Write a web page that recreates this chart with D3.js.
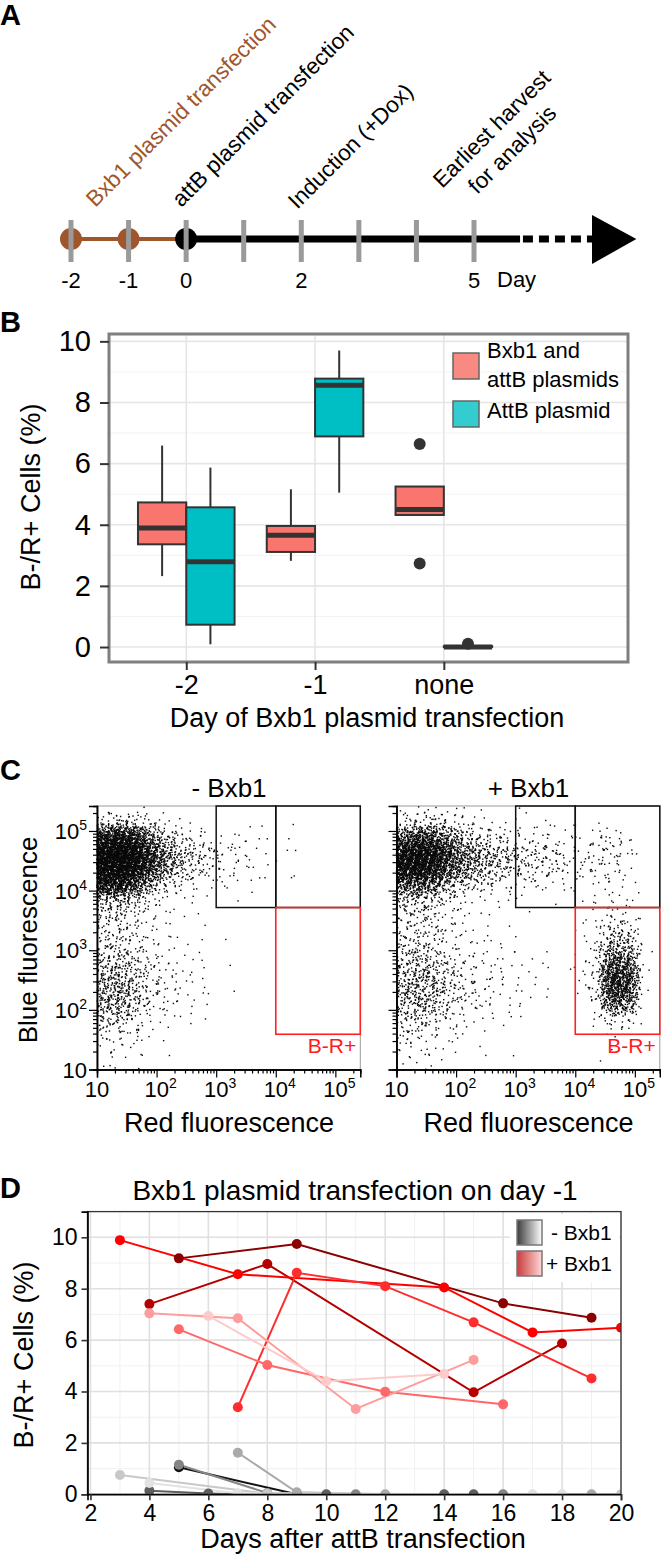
<!DOCTYPE html>
<html><head><meta charset="utf-8">
<script src="https://cdn.jsdelivr.net/npm/d3@7"></script>
<style>
body{margin:0;background:#fff}
svg{display:block}
text{font-family:"Liberation Sans",Arial,Helvetica,sans-serif}
</style>
</head><body>
<svg id="fig" width="661" height="1562"></svg>
<script>
// ================= DATA =================
// Panel A – timeline
const tlDays = [-2,-1,0,1,2,3,4,5];
const tlLabelDays = [-2,-1,0,2,5];
const bxb1Days = [-2,-1];
const attBDays = [0];
const eventText = [["Bxb1 plasmid transfection"],["attB plasmid transfection"],["Induction (+Dox)"],["Earliest harvest","for analysis"]];
const eventDay = [-1.5, 0, 2, 5];

// Panel B – box plots  [lower whisker, Q1, median, Q3, upper whisker]
const bGroups = ["-2","-1","none"];
const bSeries = [["Bxb1 and","attB plasmids"],["AttB plasmid"]];
const boxBxb1 = [[2.32,3.36,3.89,4.73,6.59],[2.82,3.11,3.66,3.96,5.16],[4.32,4.32,4.50,5.25,5.25]];
const boxAttB = [[0.09,0.73,2.79,4.57,5.87],[5.05,6.89,8.56,8.78,9.70],[0,0,0,0.03,0.03]];
const outBxb1 = [[],[],[6.64,2.73]];
const outAttB = [[],[],[0.11]];
const bTicks = [0,2,4,6,8,10];

// Panel C – flow cytometry density (counts per 0.25-decade cell; rows from log10 5.5 down to 1, cols from log10 1 up)
const facsTitles = ["- Bxb1","+ Bxb1"];
const facsExps = [1,2,3,4,5];
const facsMax = 262144;
const gateBlueCut = 5200, gateRedLow = 39, gateRed1 = 1000, gateRed2 = 10000;
const facsMinus = [
 [0,1,1,0,0,0,0,0,0,0,0,0,0,0,0,0,0,0],
 [20,30,25,12,5,2,1,0,0,0,1,0,0,1,0,0,0,0],
 [240,300,230,95,35,15,8,5,3,3,2,1,1,0,0,0,0,0],
 [380,420,370,200,85,40,25,15,8,6,3,2,1,1,0,0,0,0],
 [380,420,350,180,75,35,20,12,6,5,3,1,0,1,0,0,0,0],
 [260,280,170,65,25,10,6,4,2,2,2,1,1,0,0,0,0,0],
 [50,55,30,10,4,2,1,0,1,1,0,0,0,0,0,0,0,0],
 [20,22,14,6,3,2,1,0,0,0,0,0,0,0,0,0,0,0],
 [16,16,11,5,3,1,0,1,0,0,0,0,0,0,0,0,0,0],
 [16,17,12,6,3,2,1,0,1,0,0,0,0,0,0,0,0,0],
 [26,30,18,8,4,2,2,1,0,0,0,0,0,0,0,0,0,0],
 [38,42,26,12,6,4,3,1,1,0,0,0,0,0,0,0,0,0],
 [48,58,36,15,8,5,3,2,0,1,0,0,0,0,0,0,0,0],
 [48,58,30,12,6,4,2,1,0,0,0,0,0,0,0,0,0,0],
 [30,30,15,6,3,2,1,0,0,0,0,0,0,0,0,0,0,0],
 [12,10,6,3,1,1,0,0,0,0,0,0,0,0,0,0,0,0],
 [5,5,3,1,1,0,0,0,0,0,0,0,0,0,0,0,0,0],
 [3,2,1,1,0,0,0,0,0,0,0,0,0,0,0,0,0,0]
];
const facsPlus = [
 [1,3,3,2,1,0,0,0,1,0,0,0,0,0,0,0,0,0],
 [12,22,24,16,8,5,3,2,2,2,1,1,1,2,1,0,0,0],
 [120,170,150,80,40,22,14,9,7,7,6,3,3,6,7,3,0,0],
 [280,340,290,170,90,55,38,28,20,18,15,8,6,11,11,5,1,0],
 [280,330,260,140,80,50,33,24,18,15,13,7,5,9,9,4,0,0],
 [130,150,110,50,28,16,11,8,6,5,4,3,2,3,3,2,0,0],
 [32,36,26,10,6,3,2,2,1,1,1,0,1,3,4,2,0,0],
 [15,18,12,6,3,2,1,0,1,0,0,0,1,4,9,7,1,0],
 [14,15,12,6,4,2,1,1,0,0,0,0,1,6,18,14,1,0],
 [18,18,14,8,4,3,2,2,1,0,0,0,1,8,45,38,2,0],
 [25,30,22,12,6,4,3,2,2,1,0,1,2,12,100,85,2,0],
 [35,40,32,18,10,6,4,3,2,1,1,0,2,15,180,150,2,0],
 [40,50,38,22,12,8,5,4,2,2,1,0,2,15,190,160,2,0],
 [35,45,32,18,10,6,4,3,2,1,0,0,1,10,120,95,1,0],
 [25,25,18,10,5,3,2,1,1,0,0,0,0,4,16,12,1,0],
 [12,10,7,4,2,1,1,0,0,0,0,0,0,1,2,2,0,0],
 [6,5,3,2,1,0,0,0,1,0,0,0,0,0,1,0,0,0],
 [3,3,2,1,0,0,1,0,0,0,0,0,0,0,1,0,0,0]
];

// Panel D – time courses
const dXTicks = [2,4,6,8,10,12,14,16,18,20];
const dYTicks = [0,2,4,6,8,10];
const plusDays = [[5,9,16,19],[4,8,15,18],[3,7,14,17,20],[7,9,12,15,19],[5,8,12,16],[4,7,11,15],[6,10,14]];
const plusVals = [[9.18,9.74,7.43,6.87],[7.40,8.96,3.97,5.87],[9.89,8.56,8.05,6.30,6.48],[3.39,8.62,8.10,6.69,4.51],[6.42,5.03,3.99,3.50],[7.04,6.85,3.32,5.23],[6.94,4.40,4.68]];
const minusDays = [[5,9],[4,6,7,10,14,15],[5,8,11,16],[7,9,12,19],[3,8,20],[4,7,17,18]];
const minusVals = [[1.05,0],[0.14,0.03,0,0,0,0],[1.15,0.05,0,0],[1.62,0.08,0,0],[0.75,0.02,0],[0.44,0.04,0,0]];
const dLegend = ["- Bxb1","+ Bxb1"];

// ================= DRAW =================
const svg = d3.select("#fig");
const defs = svg.append("defs");

function txt(g, x, y, s, size, opt = {}) {
  const t = g.append("text").attr("x", x).attr("y", y).text(s)
    .attr("font-size", size).attr("fill", opt.fill || "#000")
    .attr("text-anchor", opt.anchor || "start");
  if (opt.weight) t.attr("font-weight", opt.weight);
  if (opt.rotate != null) t.attr("transform", `rotate(${opt.rotate},${x},${y})`);
  return t;
}
function styleAxis(ax, size, color) {
  ax.selectAll("text").attr("font-size", size).attr("fill", "#000");
  ax.selectAll(".tick line").attr("stroke", color || "#000");
}

// ---------- Panel A ----------
const gA = svg.append("g");
txt(gA, 0, 25, "A", 29, {weight: "bold"});
const xA = d3.scaleLinear().domain([-2, 5]).range([71, 474]);
const yLine = 239;
const brown = "#a0562c";
gA.append("line").attr("x1", xA(-2)).attr("x2", xA(0)).attr("y1", yLine).attr("y2", yLine)
  .attr("stroke", brown).attr("stroke-width", 4);
gA.append("line").attr("x1", xA(0)).attr("x2", xA(5.8)).attr("y1", yLine).attr("y2", yLine)
  .attr("stroke", "#000").attr("stroke-width", 7);
gA.append("line").attr("x1", xA(5.85)).attr("x2", xA(7.05)).attr("y1", yLine).attr("y2", yLine)
  .attr("stroke", "#000").attr("stroke-width", 7).attr("stroke-dasharray", "10,6");
gA.append("path")
  .attr("d", `M${xA(7.05)},${yLine-24} L${xA(7.82)},${yLine} L${xA(7.05)},${yLine+25} Z`)
  .attr("fill", "#000");
gA.selectAll("circle.bx").data(bxb1Days).join("circle").attr("class","bx")
  .attr("cx", d => xA(d)).attr("cy", yLine).attr("r", 11).attr("fill", brown);
gA.selectAll("circle.at").data(attBDays).join("circle").attr("class","at")
  .attr("cx", d => xA(d)).attr("cy", yLine).attr("r", 11).attr("fill", "#000");
gA.selectAll("rect.tk").data(tlDays).join("rect").attr("class","tk")
  .attr("x", d => xA(d) - 2.5).attr("y", 220).attr("width", 5).attr("height", 42)
  .attr("fill", "#9a9a9a");
tlLabelDays.forEach(d => txt(gA, xA(d), 288, String(d), 22, {anchor: "middle"}));
txt(gA, 497, 287, "Day", 22);
const evDX = [-4.5, -5, -4, 3.3], evY = [208, 208, 210, 195];
eventText.forEach((lines, i) => {
  const g = gA.append("g").attr("transform", `translate(${xA(eventDay[i]) + evDX[i]},${evY[i]}) rotate(-45)`);
  const col = i === 0 ? brown : "#000";
  const last = txt(g, 0, 0, lines[lines.length - 1], 22.5, {fill: col});
  const L = last.node().getComputedTextLength();
  for (let k = 0; k < lines.length - 1; k++) {
    txt(g, L / 2, -29 * (lines.length - 1 - k), lines[k], 22.5, {fill: col, anchor: "middle"});
  }
});

// ---------- Panel B ----------
const gB = svg.append("g");
txt(gB, 0, 332, "B", 29, {weight: "bold"});
const xB = d3.scaleLinear().domain([0.4, 4.43]).range([109, 628]);
const yB = d3.scaleLinear().domain([-0.49, 10.24]).range([662, 334]);
gB.selectAll("line.gmin").data([1,3,5,7,9]).join("line").attr("class","gmin")
  .attr("x1", 109).attr("x2", 628).attr("y1", d => yB(d)).attr("y2", d => yB(d))
  .attr("stroke", "#f2f2f2").attr("stroke-width", 1);
gB.selectAll("line.gmaj").data(bTicks).join("line").attr("class","gmaj")
  .attr("x1", 109).attr("x2", 628).attr("y1", d => yB(d)).attr("y2", d => yB(d))
  .attr("stroke", "#e6e6e6").attr("stroke-width", 1.6);
gB.selectAll("line.gv").data([1,2,3]).join("line").attr("class","gv")
  .attr("x1", d => xB(d)).attr("x2", d => xB(d)).attr("y1", 334).attr("y2", 662)
  .attr("stroke", "#e6e6e6").attr("stroke-width", 1.6);
const boxFill = ["#F8766D", "#00BFC4"];
const keyFill = ["#f98a82", "#33cccf"];
const bw = xB(0.375) - xB(0);
[boxBxb1, boxAttB].forEach((arr, s) => arr.forEach((q, i) => {
  const cx = xB(i + 1 + (s === 0 ? -0.1875 : 0.1875));
  gB.append("line").attr("x1", cx).attr("x2", cx).attr("y1", yB(q[0])).attr("y2", yB(q[1]))
    .attr("stroke", "#333").attr("stroke-width", 2);
  gB.append("line").attr("x1", cx).attr("x2", cx).attr("y1", yB(q[3])).attr("y2", yB(q[4]))
    .attr("stroke", "#333").attr("stroke-width", 2);
  gB.append("rect").attr("x", cx - bw / 2).attr("y", yB(q[3])).attr("width", bw)
    .attr("height", Math.max(0.5, yB(q[1]) - yB(q[3])))
    .attr("fill", boxFill[s]).attr("stroke", "#333").attr("stroke-width", 2);
  gB.append("line").attr("x1", cx - bw / 2).attr("x2", cx + bw / 2).attr("y1", yB(q[2])).attr("y2", yB(q[2]))
    .attr("stroke", "#333").attr("stroke-width", 5);
  const outs = (s === 0 ? outBxb1 : outAttB)[i];
  outs.forEach(v => gB.append("circle").attr("cx", cx).attr("cy", yB(v)).attr("r", 6).attr("fill", "#333"));
}));
gB.append("rect").attr("x", 109).attr("y", 334).attr("width", 519).attr("height", 328)
  .attr("fill", "none").attr("stroke", "#7f7f7f").attr("stroke-width", 3);
const ayB = gB.append("g").attr("transform", "translate(109,0)")
  .call(d3.axisLeft(yB).tickValues(bTicks).tickSize(9).tickPadding(9));
ayB.select(".domain").remove();
styleAxis(ayB, 29, "#333"); ayB.selectAll(".tick line").attr("stroke-width", 2);
const axB = gB.append("g").attr("transform", "translate(0,662)")
  .call(d3.axisBottom(xB).tickValues([1,2,3]).tickFormat((d, i) => bGroups[i]).tickSize(8).tickPadding(5));
axB.select(".domain").remove();
styleAxis(axB, 27, "#333"); axB.selectAll(".tick line").attr("stroke-width", 2);
txt(gB, 40, 497, "B-/R+ Cells (%)", 27, {anchor: "middle", rotate: -90});
txt(gB, 367, 727, "Day of Bxb1 plasmid transfection", 27, {anchor: "middle"});
// legend
const keyY = [353, 401];
bSeries.forEach((lines, s) => {
  gB.append("rect").attr("x", 453).attr("y", keyY[s]).attr("width", 26).attr("height", 26)
    .attr("fill", keyFill[s]).attr("stroke", "#666").attr("stroke-width", 1.5);
});
txt(gB, 487, 358, bSeries[0][0], 22);
txt(gB, 487, 387, bSeries[0][1], 22);
txt(gB, 487, 418, bSeries[1][0], 22);

// ---------- Panel C ----------
const gC = svg.append("g");
txt(gC, 0, 780, "C", 29, {weight: "bold"});
function halton(i, b) { let f = 1, r = 0; while (i > 0) { f /= b; r += f * (i % b); i = Math.floor(i / b); } return r; }
const lmax = Math.log10(facsMax);
function fold(v) { if (v < 1) v = 2 - v; if (v > lmax - 0.01) v = 2 * (lmax - 0.01) - v; return v; }
const facsX0 = [97, 396.5];
[facsMinus, facsPlus].forEach((grid, p) => {
  const x0 = facsX0[p];
  const xs = d3.scaleLog().domain([10, facsMax]).range([x0, x0 + 263.3]);
  const ys = d3.scaleLog().domain([10, facsMax]).range([1069.5, 806]);
  const g = gC.append("g");
  g.append("rect").attr("x", x0).attr("y", 806).attr("width", 263.3).attr("height", 263.5)
    .attr("fill", "none").attr("stroke", "#9a9a9a").attr("stroke-width", 1);
  // points spread from each density cell (tent kernel, low-discrepancy placement)
  const pts = [];
  grid.forEach((row, r) => row.forEach((n, c) => {
    const lx0 = 1 + c * 0.25, ly1 = 5.5 - r * 0.25;
    for (let i = 0; i < n; i++) {
      const k = i + 1 + (r * 18 + c) * 61 + p * 7919;
      const u = halton(k, 2) + halton(k, 5);
      const v = halton(k, 3) + halton(k, 7);
      const lx = fold(lx0 + (u - 0.5) * 0.25);
      const ly = fold(ly1 - (v - 0.5) * 0.25);
      pts.push([Math.pow(10, lx), Math.pow(10, ly)]);
    }
  }));
  g.append("g").selectAll("rect").data(pts).join("rect")
    .attr("x", d => xs(d[0]) - 0.7).attr("y", d => ys(d[1]) - 0.7)
    .attr("width", 1.4).attr("height", 1.4).attr("fill", "#0a0a0a");
  // gates
  g.append("rect").attr("x", xs(gateRed1)).attr("y", ys(facsMax)).attr("width", xs(gateRed2) - xs(gateRed1))
    .attr("height", ys(gateBlueCut) - ys(facsMax)).attr("fill", "none").attr("stroke", "#111").attr("stroke-width", 1.5);
  g.append("rect").attr("x", xs(gateRed2)).attr("y", ys(facsMax)).attr("width", xs(facsMax) - xs(gateRed2))
    .attr("height", ys(gateBlueCut) - ys(facsMax)).attr("fill", "none").attr("stroke", "#111").attr("stroke-width", 1.5);
  g.append("rect").attr("x", xs(gateRed2)).attr("y", ys(gateBlueCut)).attr("width", xs(facsMax) - xs(gateRed2))
    .attr("height", ys(gateRedLow) - ys(gateBlueCut)).attr("fill", "none").attr("stroke", "#ff2020").attr("stroke-width", 1.6);
  txt(g, xs(facsMax) - 4, 1053, "B-R+", 21, {anchor: "end", fill: "#ff1a1a"});
  // axes
  const majors = facsExps.map(e => Math.pow(10, e));
  const minors = [];
  for (let e = 1; e <= 5; e++) for (let m = 2; m <= 9; m++) { const v = m * Math.pow(10, e); if (v <= facsMax) minors.push(v); }
  const axl = g.append("g").attr("transform", `translate(${x0},0)`);
  axl.call(d3.axisLeft(ys).tickValues(minors).tickSize(4).tickFormat(""));
  axl.append("g").call(d3.axisLeft(ys).tickValues(majors).tickSize(8).tickFormat(""));
  axl.selectAll("path.domain").attr("stroke", "#000").attr("stroke-width", 1.5);
  axl.selectAll(".tick line").attr("stroke", "#000").attr("stroke-width", 1.2);
  const axb = g.append("g").attr("transform", "translate(0,1069.5)");
  axb.call(d3.axisBottom(xs).tickValues(minors).tickSize(4).tickFormat(""));
  axb.append("g").call(d3.axisBottom(xs).tickValues(majors).tickSize(8).tickFormat(""));
  axb.selectAll("path.domain").attr("stroke", "#000").attr("stroke-width", 1.5);
  axb.selectAll(".tick line").attr("stroke", "#000").attr("stroke-width", 1.2);
  // labels
  function sup(x, y, e, anchor) {
    const t = g.append("text").attr("x", x).attr("y", y).attr("text-anchor", anchor).attr("font-size", 22);
    t.append("tspan").text("10");
    if (e > 1) t.append("tspan").attr("dy", -9).attr("font-size", 14).text(e);
  }
  facsExps.forEach(e => {
    sup(xs(Math.pow(10, e)) + (e > 1 ? 4 : 0), 1097, e, "middle");
    if (p === 0) sup(x0 - 10, ys(Math.pow(10, e)) + 8, e, "end");
  });
  txt(g, x0 + 132, 797, facsTitles[p], 26, {anchor: "middle"});
  txt(g, x0 + 132, 1132, "Red fluorescence", 27, {anchor: "middle"});
});
txt(gC, 37, 940, "Blue fluorescence", 26, {anchor: "middle", rotate: -90});

// ---------- Panel D ----------
const gD = svg.append("g");
txt(gD, 0, 1198, "D", 29, {weight: "bold"});
txt(gD, 355, 1200, "Bxb1 plasmid transfection on day -1", 28, {anchor: "middle"});
const xD = d3.scaleLinear().domain([1.9, 20]).range([87.5, 621]);
const yD = d3.scaleLinear().domain([0, 11]).range([1494.3, 1211.6]);
const pL = 87.5, pR = 621, pT = 1211.6, pB = 1494.3;
const oddX = d3.range(3, 20, 2), oddY = [1,3,5,7,9];
gD.selectAll("line.mx").data(oddX).join("line").attr("class","mx")
  .attr("x1", d => xD(d)).attr("x2", d => xD(d)).attr("y1", pT).attr("y2", pB).attr("stroke", "#f1f1f1").attr("stroke-width", 1);
gD.selectAll("line.my").data(oddY).join("line").attr("class","my")
  .attr("y1", d => yD(d)).attr("y2", d => yD(d)).attr("x1", pL).attr("x2", pR).attr("stroke", "#f1f1f1").attr("stroke-width", 1);
gD.selectAll("line.Mx").data(dXTicks).join("line").attr("class","Mx")
  .attr("x1", d => xD(d)).attr("x2", d => xD(d)).attr("y1", pT).attr("y2", pB).attr("stroke", "#e0e0e0").attr("stroke-width", 1.6);
gD.selectAll("line.My").data(dYTicks).join("line").attr("class","My")
  .attr("y1", d => yD(d)).attr("y2", d => yD(d)).attr("x1", pL).attr("x2", pR).attr("stroke", "#e0e0e0").attr("stroke-width", 1.6);
defs.append("clipPath").attr("id", "clipD").append("rect")
  .attr("x", pL).attr("y", pT).attr("width", pR - pL).attr("height", pB - pT);
const plotD = gD.append("g").attr("clip-path", "url(#clipD)");
const grayCols = ["#111111", "#5e5e5e", "#858585", "#aaaaaa", "#c8c8c8", "#e2e2e2"];
const redCols = ["#8b0000", "#b60000", "#ff0000", "#ff2e2e", "#ff6868", "#ff9c9c", "#ffcaca"];
const line = d3.line().x(d => xD(d[0])).y(d => yD(d[1]));
const minusSeries = minusDays.map((ds, i) => ds.map((d, j) => [d, minusVals[i][j]]));
const plusSeries = plusDays.map((ds, i) => ds.map((d, j) => [d, plusVals[i][j]]));
minusSeries.forEach((s, i) => plotD.append("path").attr("d", line(s)).attr("fill", "none").attr("stroke", grayCols[i]).attr("stroke-width", 2));
plusSeries.forEach((s, i) => plotD.append("path").attr("d", line(s)).attr("fill", "none").attr("stroke", redCols[i]).attr("stroke-width", 2));
minusSeries.forEach((s, i) => plotD.append("g").selectAll("circle").data(s).join("circle")
  .attr("cx", d => xD(d[0])).attr("cy", d => yD(d[1])).attr("r", 5).attr("fill", grayCols[i]));
plusSeries.forEach((s, i) => plotD.append("g").selectAll("circle").data(s).join("circle")
  .attr("cx", d => xD(d[0])).attr("cy", d => yD(d[1])).attr("r", 5).attr("fill", redCols[i]));
gD.append("rect").attr("x", pL).attr("y", pT).attr("width", pR - pL).attr("height", pB - pT)
  .attr("fill", "none").attr("stroke", "#333").attr("stroke-width", 1.3);
const ayD = gD.append("g").attr("transform", `translate(${pL},0)`)
  .call(d3.axisLeft(yD).tickValues(dYTicks).tickSize(6).tickPadding(4));
ayD.select(".domain").attr("stroke", "#000").attr("stroke-width", 1.6);
styleAxis(ayD, 23, "#333"); ayD.selectAll(".tick line").attr("stroke-width", 1.6);
const axD = gD.append("g").attr("transform", `translate(0,${pB})`)
  .call(d3.axisBottom(xD).tickValues(dXTicks).tickSize(6).tickPadding(4));
axD.select(".domain").attr("stroke", "#000").attr("stroke-width", 1.6);
styleAxis(axD, 23, "#333"); axD.selectAll(".tick line").attr("stroke-width", 1.6);
txt(gD, 33, 1355, "B-/R+ Cells (%)", 27, {anchor: "middle", rotate: -90});
txt(gD, 363, 1548, "Days after attB transfection", 27, {anchor: "middle"});
// legend
gD.append("rect").attr("x", 510).attr("y", 1214).attr("width", 109).attr("height", 68).attr("fill", "#fff");
const gradStops = [["#3c3c3c", "#ffffff"], ["#c83c3c", "#ffd8d8"]];
gradStops.forEach((st, i) => {
  const lg = defs.append("linearGradient").attr("id", "lg" + i).attr("x1", "0%").attr("x2", "100%");
  lg.append("stop").attr("offset", "0%").attr("stop-color", st[0]);
  lg.append("stop").attr("offset", "100%").attr("stop-color", st[1]);
  gD.append("rect").attr("x", 517).attr("y", [1220, 1251][i]).attr("width", 25).attr("height", 25)
    .attr("fill", `url(#lg${i})`).attr("stroke", "#777").attr("stroke-width", 1.5);
});
txt(gD, 551, 1240, dLegend[0], 21);
txt(gD, 546, 1271, dLegend[1], 21);
</script>
</body></html>
